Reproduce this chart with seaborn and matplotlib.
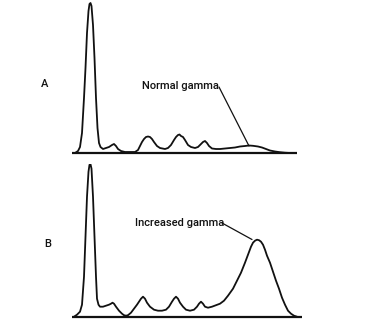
import numpy as np
import pandas as pd
import matplotlib
matplotlib.use("Agg")
import matplotlib.pyplot as plt
import seaborn as sns

# Densitometer trace A (normal gamma): mobility position, relative absorbance
mob_a = [75, 78, 80, 82, 84, 85.5, 87, 88.5, 89.5, 90.5, 91.5, 93, 94.5, 96, 97.5, 99, 100.5, 103, 106, 109,
         112, 114, 116, 118, 121, 125, 130, 135, 138, 140, 142, 144, 146, 148, 150, 152, 154, 157, 160,
         165, 168, 171, 174, 176, 178, 179.5, 181, 183, 185, 188, 191, 195, 198, 201, 203, 205, 207,
         209, 212, 216, 220, 225, 230, 235, 240, 245, 249, 253, 258, 262, 266, 270, 275, 280, 285, 290]
abs_a = [0, 2, 6, 20, 55, 85, 120, 142, 149, 150, 147, 128, 95, 55, 25, 10, 6, 4, 5, 6,
         8, 9, 7, 4, 2, 1, 1, 1, 3, 7, 11, 14, 16, 16.5, 16, 14, 11, 7, 5,
         4, 5, 8, 13, 16, 18, 18.5, 17, 16, 13, 8, 6, 5, 6, 9, 11, 12, 10,
         7, 4.5, 4, 4, 4.5, 5, 5.5, 6.5, 7, 7.5, 7.2, 6.5, 5.5, 4, 2.5, 1.5, 0.8, 0.3, 0]

# Densitometer trace B (increased gamma)
mob_b = [74, 77, 80, 82, 84, 85.5, 87, 88.5, 89.5, 90.5, 91.5, 93, 94.5, 96, 97, 98.5, 100, 103, 106,
         109, 111, 112.5, 114, 116, 119, 122, 124, 126, 128, 131, 134, 137, 139, 141, 143, 145, 147,
         150, 154, 158, 162, 166, 169, 172, 174, 176, 178, 180, 183, 186, 190, 194, 197, 199, 201,
         203, 205, 208, 212, 216, 220, 224, 228, 233, 237, 241, 245, 248, 251, 253, 255, 257, 259,
         261, 263, 265, 267, 270, 273, 276, 279, 282, 285, 288, 291, 294, 297]
abs_b = [0, 2, 5, 12, 40, 80, 120, 145, 152, 152.5, 148, 120, 80, 40, 18, 12, 10, 10, 11,
         12, 13, 14, 13, 10, 6, 3, 1.5, 1, 1.5, 4, 8, 12, 15, 18, 20, 18, 14,
         10, 7, 6, 6, 7, 10, 15, 18, 20, 18, 14, 10, 7, 6, 7, 10, 13, 15,
         13, 10, 9, 10, 11.5, 13, 16, 21, 28, 36, 44, 54, 62, 70, 74, 76, 77, 76.5,
         75, 72, 67, 61, 54, 45, 36, 28, 19, 12, 6, 3, 1, 0]

panel_labels = ["A", "B"]
annotations = ["Normal gamma", "Increased gamma"]
baseline_a = [72, 297]
baseline_b = [72, 302]

W, H = 375, 325
fig = plt.figure(figsize=(W / 100, H / 100), dpi=100)
sns.set_style("white")
plt.rcParams["font.family"] = ["Roboto", "DejaVu Sans"]

# axes in pixel-matched coordinates (baseline = 0)
ax_a = fig.add_axes([0, (172 - 2) / H, 1, 155 / H])
ax_b = fig.add_axes([0, (8.3 - 2) / H, 1, 155 / H])

for ax, mob, ab, base in [(ax_a, mob_a, abs_a, baseline_a), (ax_b, mob_b, abs_b, baseline_b)]:
    df = pd.DataFrame({"mobility": mob, "absorbance": ab})
    ax.plot(base, [0, 0], color="#111111", lw=1.6, solid_capstyle="butt", zorder=2)
    sns.lineplot(data=df, x="mobility", y="absorbance", ax=ax, color="#111111",
                 lw=1.3, sort=False, estimator=None, zorder=3)
    ax.set_xlim(0, W)
    ax.set_ylim(-2, 153)
    ax.axis("off")

fs = 8.0
kw = dict(fontsize=fs, color="#111111", fontweight="medium")
ax_a.text(45, 153 - 84, panel_labels[0], ha="center", va="center", **kw)
ax_b.text(48, 316.7 - 244, panel_labels[1], ha="center", va="center", **kw)

ax_a.text(142, 153 - 86, annotations[0], ha="left", va="center", **kw)
ax_a.plot([219, 249], [153 - 87, 153 - 146], color="#111111", lw=0.9)

ax_b.text(135, 316.7 - 223, annotations[1], ha="left", va="center", **kw)
ax_b.plot([222, 252], [316.7 - 223, 316.7 - 239.5], color="#111111", lw=0.9)

fig.savefig("out.png", dpi=100, facecolor="white")
